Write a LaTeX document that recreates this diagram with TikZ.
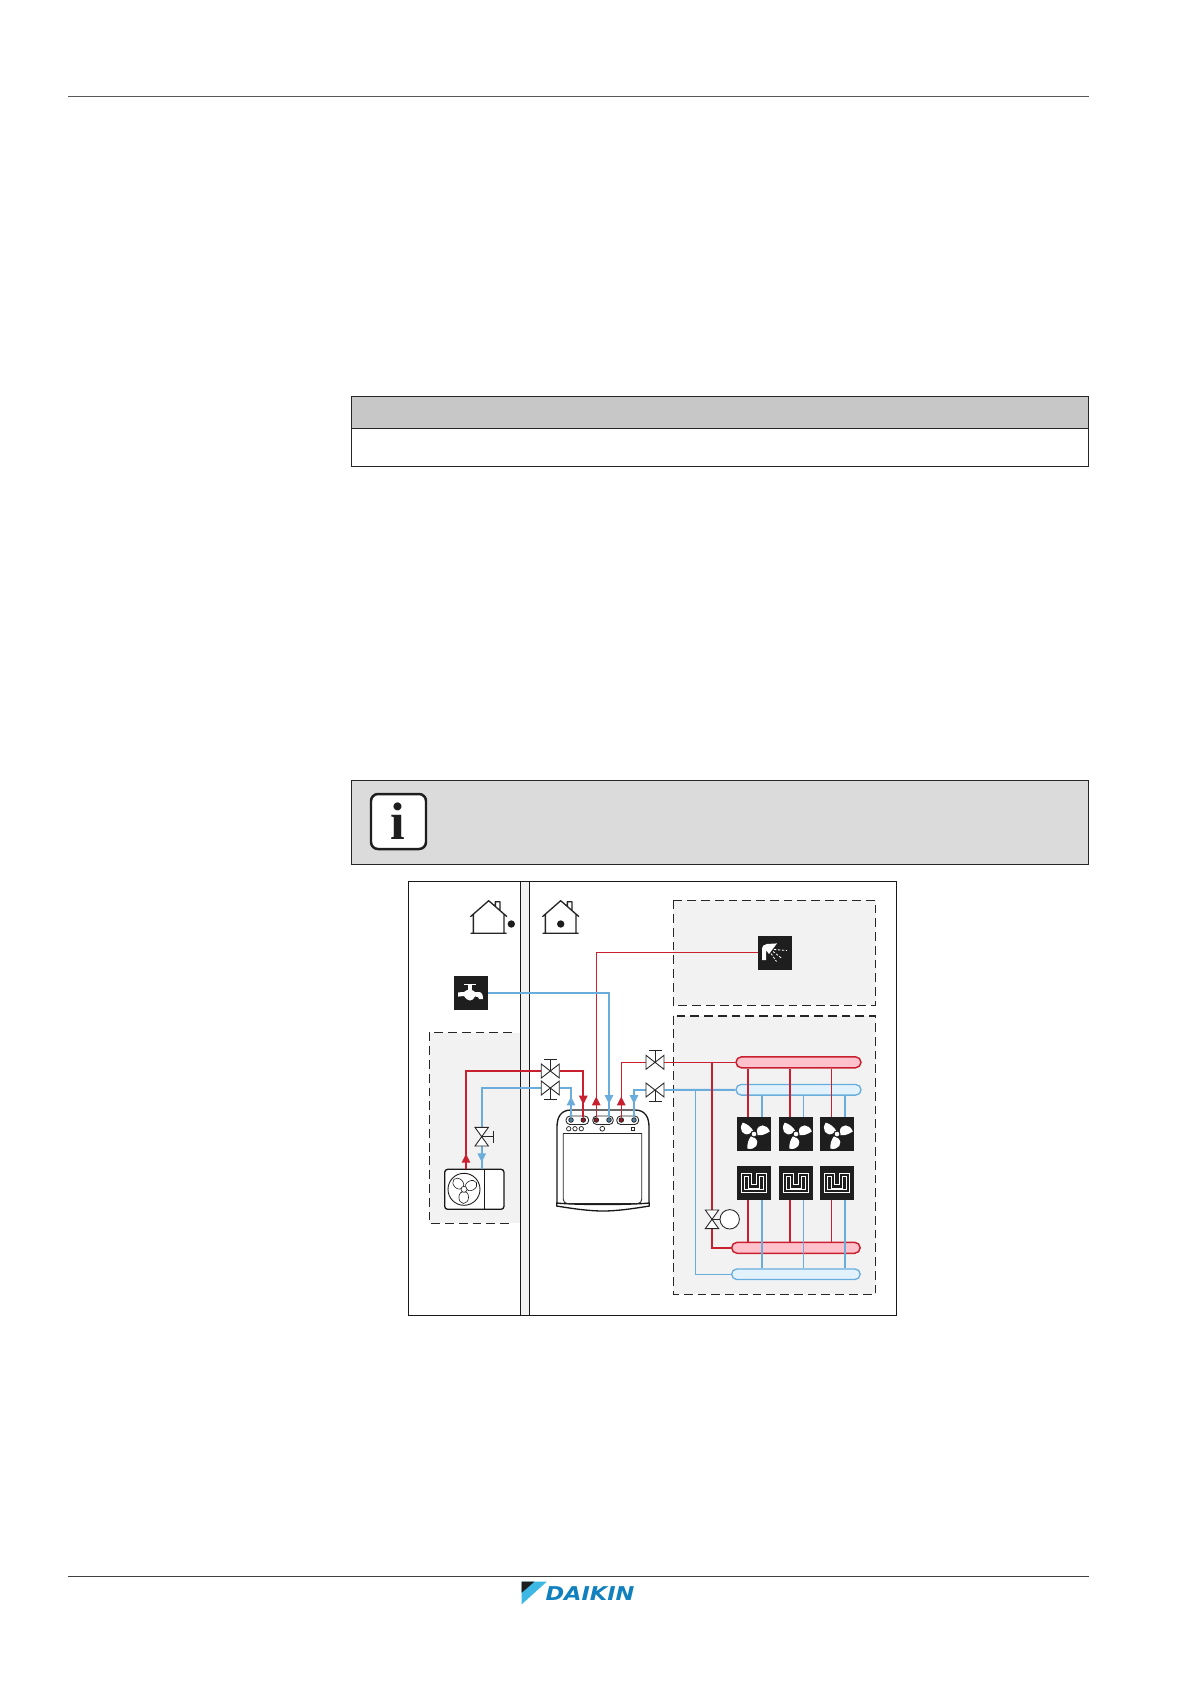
\documentclass[tikz,border=0pt]{standalone}
\usepackage{fontspec}
\newfontfamily\logofont{DejaVu Sans}
\newfontfamily\infofont{Liberation Serif}
\usetikzlibrary{calc}
\def\px{0.24mm}
\definecolor{pred}{HTML}{C8202F}
\definecolor{pblue}{HTML}{6AADDC}
\definecolor{barred}{HTML}{FFC2CC}
\definecolor{barblue}{HTML}{E2F2FC}
\definecolor{zonegray}{HTML}{F2F2F2}
\definecolor{icon}{HTML}{1E1E1E}
\definecolor{logoblue}{HTML}{1180BE}
\definecolor{logosky}{HTML}{3DB7E4}
\tikzset{
  rthick/.style={draw=pred,line width=1.35pt},
  rthin/.style={draw=pred,line width=0.7pt},
  bthick/.style={draw=pblue,line width=1.35pt},
  bthin/.style={draw=pblue,line width=0.8pt},
  zoneline/.style={draw=black!85,line width=0.7pt,dash pattern=on 6pt off 3.4pt},
  zoneheavy/.style={draw=black!85,line width=1.1pt,dash pattern=on 6pt off 3.4pt},
  iconbox/.style={rectangle,fill=icon,inner sep=0,minimum width=34*\px,minimum height=34*\px},
  valvehbox/.style={rectangle,inner sep=0,minimum width=18*\px,minimum height=14*\px},
  valvevbox/.style={rectangle,inner sep=0,minimum width=13.4*\px,minimum height=18.6*\px},
  portnode/.style={circle,inner sep=0,minimum size=4.6*\px,line width=0.5pt},
  redport/.style={portnode,draw=icon,fill=pred!75!black},
  blueport/.style={portnode,draw=icon,fill=pblue!75!black},
  redbar/.style={rectangle,rounded corners=5.5*\px,draw=pred,line width=1pt,fill=barred,inner sep=0,minimum height=11*\px},
  bluebar/.style={rectangle,rounded corners=5.2*\px,draw=pblue,line width=0.9pt,fill=barblue,inner sep=0,minimum height=10.6*\px},
  sym/.style={draw=black!85,line width=0.6pt,fill=white},
  unitline/.style={draw=black!90,line width=0.9pt},
  unitthin/.style={draw=black!85,line width=0.6pt},
  pics/valveup/.style={code={
    \draw[sym] (0,0)--(0,-11.5) (-6.5,-11.5)--(6.5,-11.5);
    \draw[sym] (-9,-7)--(9,7)--(9,-7)--(-9,7)--cycle;}},
  pics/valvedown/.style={code={
    \draw[sym] (0,0)--(0,11.5) (-6.5,11.5)--(6.5,11.5);
    \draw[sym] (-9,-7)--(9,7)--(9,-7)--(-9,7)--cycle;}},
  pics/valvevert/.style={code={
    \draw[sym] (0,0)--(11.6,0) (11.6,-6)--(11.6,6);
    \draw[sym] (-6.7,-9.3)--(6.7,-9.3)--(-6.7,9.3)--(6.7,9.3)--cycle;}},
  pics/valvemix/.style={code={
    \draw[sym] (0,0)--(12,0);
    \draw[sym] (-6.7,-9.3)--(6.7,-9.3)--(-6.7,9.3)--(6.7,9.3)--cycle;
    \draw[sym] (17.7,0) circle (9.7);}},
  pics/arrup/.style={code={\fill[#1] (-4.4,4.4)--(0,-4.4)--(4.4,4.4)--cycle;}},
  pics/arrdown/.style={code={\fill[#1] (-4.4,-4.4)--(0,4.4)--(4.4,-4.4)--cycle;}},
  pics/fanblades/.style={code={
    \foreach \a in {6,131,242}{
      \fill[white,rotate=\a] (3.2,-3) .. controls (5,-10) and (14,-9) .. (16,-1) .. controls (12,1.5) and (7,2.5) .. (3,1.5) -- cycle;}
    \fill[icon] (0,0) circle (3.6);
    \fill[white] (0,0) circle (2.3);}},
  pics/meander/.style={code={
    \draw[white,line width=2.9pt,line join=miter] (-11,8.3)--(-11,-8.3)--(-3.7,-8.3)--(-3.7,3.5)--(3.7,3.5)--(3.7,-8.3)--(11,-8.3)--(11,8.3)--cycle;
    \draw[icon,line width=1.56pt,line join=miter] (-11,8.3)--(-11,-8.3)--(-3.7,-8.3)--(-3.7,3.5)--(3.7,3.5)--(3.7,-8.3)--(11,-8.3)--(11,8.3)--cycle;}},
  pics/house/.style={code={
    \draw[draw=black!85,line width=0.9pt,line join=round]
      (-18.3,16)--(0,0)--(18.3,16)
      (6.7,5.8)--(6.7,1)--(11.3,1)--(11.3,9.7)
      (-15.3,14)--(-15.3,32.6) (15.3,14)--(15.3,32.6)
      (-18,32.6)--(18,32.6);}}
}
\begin{document}
\begin{tikzpicture}[x=\px,y=-\px]
\useasboundingbox (0,0) rectangle (1191,1684);
\fill[white] (0,0) rectangle (1191,1684);
% page rules
\draw[draw=black!65,line width=0.7pt] (68,96.6)--(1088.5,96.6);
\draw[draw=black!75,line width=0.7pt] (68,1576.4)--(1088.5,1576.4);
% table
\filldraw[fill=black!22,draw=black!85,line width=0.6pt] (351,396.5) rectangle (1088.5,428.5);
\draw[draw=black!85,line width=0.6pt] (351,428.5) rectangle (1088.5,466.5);
% note
\filldraw[fill=black!14,draw=black!85,line width=0.6pt] (351,780) rectangle (1088.5,864);
\draw[draw=icon,line width=1.7pt,fill=white,rounded corners=7*\px] (371,794) rectangle (426,849);
\node[inner sep=0,text=icon,font=\infofont\bfseries\fontsize{36pt}{36pt}\selectfont] (infoi) at (398,821) {i};
% frame
\draw[draw=black!90,line width=0.65pt] (408.5,881.5) rectangle (896.5,1315);
% zones
\fill[zonegray] (673.3,900.3) rectangle (875.6,1005.3);
\draw[zoneline] (673.3,900.3) rectangle (875.6,1005.3);
\fill[zonegray] (673.3,1015.7) rectangle (875.6,1294.3);
\draw[zoneheavy] (673.3,1015.7) rectangle (875.6,1294.3);
\fill[zonegray] (429.3,1032.7) rectangle (520.5,1223.3);
\draw[zoneline] (512,1032.7)--(429.3,1032.7)--(429.3,1223.3)--(512,1223.3);
% wall
\fill[zonegray] (520.5,881.5) rectangle (529.3,1315);
\draw[draw=black!90,line width=0.7pt] (520.5,881.5)--(520.5,1315) (529.3,881.5)--(529.3,1315);
% houses
\pic at (488.7,900.7) {house};
\pic at (560.7,900.7) {house};
\fill[icon] (511.3,924) circle (3.7);
\fill[icon] (560.7,924) circle (3.7);
% unit
\draw[unitline,fill=white] (557,1203)--(557,1127) .. controls (557,1117) and (561,1110) .. (571,1110)--(635,1110) .. controls (645,1110) and (649,1117) .. (649,1127)--(649,1203);
\draw[unitline,fill=white] (556.7,1203)--(556.7,1206) .. controls (575,1209) and (590,1211) .. (603,1211) .. controls (616,1211) and (631,1209) .. (649.3,1206)--(649.3,1203) .. controls (630,1205) and (575,1205) .. (556.7,1203)--cycle;
\draw[unitthin,rounded corners=4*\px] (563.3,1133.3)--(563.3,1203.5)--(641.7,1203.5)--(641.7,1133.3);
\draw[unitthin] (563.3,1133.3)--(641.7,1133.3);
\foreach \a/\b in {566/588.7,592.7/613.3,616.7/638.7}{
  \draw[draw=black!85,line width=0.6pt,rounded corners=4*\px] (\a,1116)rectangle(\b,1124.5);}
\foreach \a in {568.7,575,581.3}{\draw[draw=black!85,line width=0.5pt] (\a,1128.7) circle (2.2);}
\draw[draw=black!85,line width=0.5pt] (602.3,1128.7) circle (2.4);
\draw[draw=black!85,line width=0.5pt] (631.5,1127.5) rectangle (633.9,1130);
\node[blueport] (p1) at (571,1120) {};
\node[redport]  (p2) at (583.3,1120) {};
\node[redport]  (p3) at (596.3,1120) {};
\node[blueport] (p4) at (609,1120) {};
\node[redport]  (p5) at (621.3,1120) {};
\node[blueport] (p6) at (634,1120) {};
% outdoor unit
\node[rectangle,draw=black!90,line width=0.9pt,fill=white,rounded corners=3*\px,inner sep=0,minimum width=59.3*\px,minimum height=40*\px] (ou) at (474.35,1189.3) {};
\draw[draw=black!90,line width=0.7pt] (484.7,1169.3)--(484.7,1209.3);
\coordinate (oua) at (466,1169.3);
\coordinate (oub) at (481.7,1169.3);
\begin{scope}[shift={(464,1189.3)}]
  \draw[draw=black!90,line width=0.6pt] (0,0) circle (16);
  \foreach \a in {28,135,268}{
    \draw[draw=black!90,line width=0.4pt,rotate=\a] (8,0) ellipse (6.2 and 4.8);}
  \draw[draw=black!90,line width=0.4pt,fill=white] (0,0) circle (3);
\end{scope}
% icons
\node[iconbox] (tap) at (471,993) {};
\begin{scope}[shift={(471,993)}]
  \fill[white] (-7,-9.4) rectangle (5,-7.6);
  \fill[white] (-2.6,-9) rectangle (0.6,-3);
  \fill[white] (-13,-0.6)--(-7,-1) .. controls (-5,-3) and (-3,-3.4) .. (-1,-3.4) .. controls (1,-3.4) and (3,-2) .. (4,-1)--(8,-1) .. controls (11,-1) and (12,2) .. (12,6)--(8,6) .. controls (8,4.5) and (7,3.6) .. (4,3.4) .. controls (3,6) and (1,7.5) .. (-1,7.5) .. controls (-3,7.5) and (-6,5.5) .. (-7,3)--(-13,3.6)--cycle;
\end{scope}
\node[iconbox] (sh) at (775,952.6) {};
\begin{scope}[shift={(775,953)}]
  \fill[white] (-13,7)--(-13,-3) .. controls (-13,-7) and (-11,-9) .. (-8,-9)--(2,-9.6)--(-6,1)--(-9,-3)--(-9,7)--cycle;
  \draw[draw=white,line width=0.55pt,dash pattern=on 1.6pt off 1.1pt] (-1,-3.5)--(12,-2.5) (-2,-1.5)--(7,5.5) (-4,0.5)--(1.5,8.5);
\end{scope}
\foreach \n/\x in {fa/754,fb/796,fc/837}{
  \node[iconbox] (\n) at (\x,1134) {};
  \pic at (\x,1134) {fanblades};}
\foreach \n/\x in {ra/754,rb/796,rc/837}{
  \node[iconbox] (\n) at (\x,1183) {};
  \pic at (\x,1183) {meander};}
% bars
\node[redbar,minimum width=125*\px] (topred) at (798.5,1062.3) {};
\node[bluebar,minimum width=125*\px] (topblue) at (798.5,1089.8) {};
\node[redbar,minimum width=128.5*\px] (botred) at (795.9,1247.8) {};
\node[bluebar,minimum width=128.5*\px] (botblue) at (795.9,1274.2) {};
% valve anchors
\node[valvehbox] (v1) at (550.3,1071) {};
\node[valvehbox] (v2) at (550.3,1088) {};
\node[valvevbox] (v3) at (481.7,1136.7) {};
\node[valvehbox] (v4) at (655,1062.3) {};
\node[valvehbox] (v5) at (655,1090) {};
\node[valvevbox] (v6) at (712,1219.3) {};
\coordinate (jb) at (695.7,1089.8);
\coordinate (jr) at (712,1062.3);
% red pipes
\draw[rthin] (sh.west) -| (p3.north);
\draw[rthick] (v1.west) -| (oua);
\draw[rthick] (v1.east) -| (p2.north);
\draw[rthin] (v4.west) -| (p5.north);
\draw[rthin] (v4.east) -- (topred.west);
% blue pipes
\draw[bthick] (tap.east) -| (p4.north);
\draw[bthin,line width=1.1pt] (v2.west) -| (v3.north);
\draw[bthick] (v3.south) -- (oub);
\draw[bthin,line width=1.1pt] (v2.east) -| (p1.north);
\draw[bthin,line width=1.1pt] (v5.west) -| (p6.north);
\draw[bthick] (v5.east) -- (topblue.west);
\draw[bthin] (jb) |- (botblue.west);
\draw[rthick] (jr) -- (v6.north);
\draw[rthick] (v6.south) |- (botred.west);
% risers
\draw[rthick] (topred.south -| fa.north) ++(-6,0) -- ($(fa.north)+(-6,0)$);
\draw[rthick] (topred.south -| fb.north) ++(-6,0) -- ($(fb.north)+(-6,0)$);
\draw[rthin]  (topred.south -| fc.north) ++(-5.3,0) -- ($(fc.north)+(-5.3,0)$);
\draw[bthick] (topblue.south -| fa.north) ++(8,0) -- ($(fa.north)+(8,0)$);
\draw[bthin]  (topblue.south -| fb.north) ++(7.7,0) -- ($(fb.north)+(7.7,0)$);
\draw[bthick] (topblue.south -| fc.north) ++(8,0) -- ($(fc.north)+(8,0)$);
\draw[rthick] ($(ra.south)+(-6,0)$) -- ($(botred.north -| ra.south)+(-6,0)$);
\draw[rthick] ($(rb.south)+(-6,0)$) -- ($(botred.north -| rb.south)+(-6,0)$);
\draw[rthin]  ($(rc.south)+(-5.3,0)$) -- ($(botred.north -| rc.south)+(-5.3,0)$);
\draw[bthick] ($(ra.south)+(8,0)$) -- ($(botblue.north -| ra.south)+(8,0)$);
\draw[bthin]  ($(rb.south)+(7.7,0)$) -- ($(botblue.north -| rb.south)+(7.7,0)$);
\draw[bthick] ($(rc.south)+(8,0)$) -- ($(botblue.north -| rc.south)+(8,0)$);
% valves
\pic at (v1) {valveup};
\pic at (v2) {valvedown};
\pic at (v3) {valvevert};
\pic at (v4) {valveup};
\pic at (v5) {valvedown};
\pic at (v6) {valvemix};
% arrowheads
\pic at (571,1101) {arrup=pblue};
\pic at (583.3,1100) {arrdown=pred};
\pic at (596.3,1101) {arrup=pred};
\pic at (609,1099.5) {arrdown=pblue};
\pic at (621.3,1101) {arrup=pred};
\pic at (634,1099.5) {arrdown=pblue};
\pic at (466,1158.3) {arrup=pred};
\pic at (481.7,1157.7) {arrdown=pblue};
% logo
\fill[logosky] (521.7,1581.7)--(546.7,1581.7)--(521.7,1604.3)--cycle;
\fill[icon] (521.7,1581.7)--(534.3,1581.7)--(521.7,1592.7)--cycle;
\node[inner sep=0,text=logoblue,xscale=1.18,transform shape,font=\logofont\bfseries\itshape\fontsize{13pt}{14pt}\selectfont] (logo) at (590,1594) {DAIKIN};
\end{tikzpicture}
\end{document}
